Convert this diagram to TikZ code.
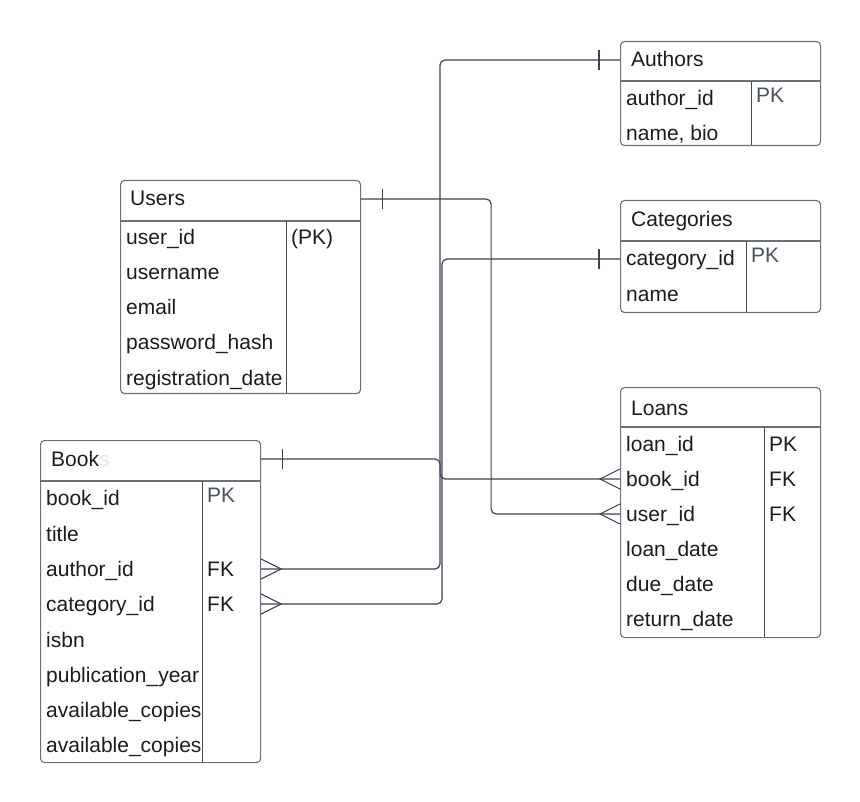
\documentclass[tikz,border=0pt]{standalone}
\usepackage{fontspec}
\setmainfont{Liberation Sans}
\definecolor{txt}{HTML}{1C1C1E}
\definecolor{pkgray}{HTML}{4A5262}
\definecolor{conncol}{HTML}{3B4250}
\definecolor{bordercol}{HTML}{6B7079}
\definecolor{faint}{HTML}{E2E4E8}
\tikzset{
  tbl/.style={draw=bordercol, line width=1.1pt, rounded corners=4pt, inner sep=0pt, anchor=north west},
  sepline/.style={draw=bordercol, line width=1.1pt},
  divline/.style={draw=txt!80, line width=0.9pt},
  basetxt/.style={anchor=west, inner sep=0pt, text height=14pt, text depth=0pt, font=\fontsize{21}{24}\selectfont},
  ttl/.style={basetxt, text=txt},
  rowtxt/.style={basetxt, text=txt},
  keytxt/.style={basetxt, text=txt},
  pktxt/.style={basetxt, text=pkgray},
  conn/.style={draw=conncol, line width=1.2pt, rounded corners=5pt},
  endmark/.style={draw=conncol, line width=1.1pt},
}
\begin{document}
\begin{tikzpicture}[x=1pt, y=-1pt]
\useasboundingbox (0,0) rectangle (860,802);

% ---------------- Authors ----------------
\node[tbl, minimum width=200pt, minimum height=104pt] (authors) at (620,41) {};
\draw[sepline] (620,81) -- (820,81);
\draw[divline] (751,81) -- (751,145);
\node[ttl] (atitle) at (631,60) {Authors};
\node[rowtxt] (aid) at (626,99) {author\_id};
\node[rowtxt] (aname) at (626,134) {name, bio};
\node[pktxt] (apk) at (756,96) {PK};

% ---------------- Users ----------------
\node[tbl, minimum width=240pt, minimum height=213pt] (users) at (120,180) {};
\draw[sepline] (120,221) -- (360,221);
\draw[divline] (286,221) -- (286,393);
\node[ttl] (utitle) at (130,199) {Users};
\node[rowtxt] (uid) at (126,238) {user\_id};
\node[rowtxt] (uname) at (126,273) {username};
\node[rowtxt] (umail) at (126,308) {email};
\node[rowtxt] (upass) at (126,343) {password\_hash};
\node[rowtxt] (ureg) at (126,378) {registration\_date};
\node[keytxt] (upk) at (291,238) {(PK)};

% ---------------- Categories ----------------
\node[tbl, minimum width=200pt, minimum height=112pt] (cats) at (620,200) {};
\draw[sepline] (620,241) -- (820,241);
\draw[divline] (746,241) -- (746,312);
\node[ttl] (ctitle) at (631,220) {Categories};
\node[rowtxt] (cid) at (626,259) {category\_id};
\node[rowtxt] (cname) at (626,295) {name};
\node[pktxt] (cpk) at (751,256) {PK};

% ---------------- Loans ----------------
\node[tbl, minimum width=200pt, minimum height=250pt] (loans) at (620,387) {};
\draw[sepline] (620,427) -- (820,427);
\draw[divline] (764,427) -- (764,637);
\node[ttl] (ltitle) at (631,408) {Loans};
\node[rowtxt] (lid) at (626,444) {loan\_id};
\node[rowtxt] (lbook) at (626,479) {book\_id};
\node[rowtxt] (luser) at (626,514) {user\_id};
\node[rowtxt] (ldate) at (626,549) {loan\_date};
\node[rowtxt] (ldue) at (626,584) {due\_date};
\node[rowtxt] (lret) at (626,619) {return\_date};
\node[keytxt] (lpk) at (769,444) {PK};
\node[keytxt] (lfk1) at (769,479) {FK};
\node[keytxt] (lfk2) at (769,514) {FK};

% ---------------- Books ----------------
\node[tbl, minimum width=220pt, minimum height=322pt] (books) at (40,440) {};
\draw[sepline] (40,481) -- (260,481);
\draw[divline] (202,481) -- (202,762);
\node[ttl] (btitle) at (51,459) {Book\textcolor{faint}{s}};
\node[rowtxt] (bid) at (46,498) {book\_id};
\node[rowtxt] (btitle2) at (46,534) {title};
\node[rowtxt] (bauth) at (46,569) {author\_id};
\node[rowtxt] (bcat) at (46,604) {category\_id};
\node[rowtxt] (bisbn) at (46,640) {isbn};
\node[rowtxt] (byear) at (46,675) {publication\_year};
\node[rowtxt] (bcop1) at (46,710) {available\_copies};
\node[rowtxt] (bcop2) at (46,745) {available\_copies};
\node[pktxt] (bpk) at (207,495) {PK};
\node[keytxt] (bfk1) at (207,569) {FK};
\node[keytxt] (bfk2) at (207,604) {FK};

% ---------------- Connectors ----------------
% Authors -> Books.author_id
\draw[conn] (atitle -| authors.west) -- ++(-180,0) |- (bauth -| books.east);
% Categories -> Books.category_id
\draw[conn] (cid -| cats.west) -- ++(-178,0) |- (bcat -| books.east);
% Books -> Loans.book_id
\draw[conn] (btitle -| books.east) -- ++(179,0) |- (lbook -| loans.west);
% Users -> Loans.user_id
\draw[conn] (utitle -| users.east) -- ++(130,0) |- (luser -| loans.west);

% one-marks (ticks)
\draw[endmark] (atitle -| authors.west) ++(-21,-10) -- ++(0,20);
\draw[endmark] (cid -| cats.west) ++(-21,-10) -- ++(0,20);
\draw[endmark] (btitle -| books.east) ++(21,-10) -- ++(0,20);
\draw[endmark] (utitle -| users.east) ++(21,-10) -- ++(0,20);

% crow's feet
\draw[endmark] (bauth -| books.east) ++(0,-10) -- ++(20,10) -- ++(-20,10);
\draw[endmark] (bcat -| books.east) ++(0,-10) -- ++(20,10) -- ++(-20,10);
\draw[endmark] (lbook -| loans.west) ++(0,-10) -- ++(-20,10) -- ++(20,10);
\draw[endmark] (luser -| loans.west) ++(0,-10) -- ++(-20,10) -- ++(20,10);
\end{tikzpicture}
\end{document}
